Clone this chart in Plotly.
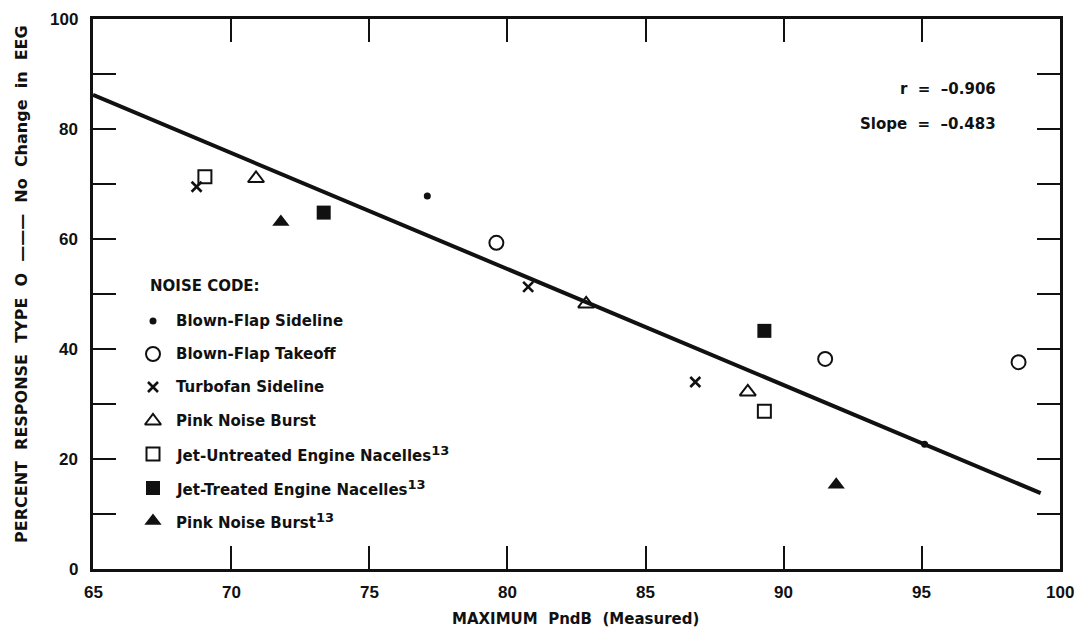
import plotly.graph_objects as go

# ---- data ----
bf_side_x = [77.1, 95.1]
bf_side_y = [67.8, 22.7]
bf_take_x = [79.6, 91.5, 98.5]
bf_take_y = [59.3, 38.2, 37.6]
turbo_x = [68.75, 80.75, 86.8]
turbo_y = [69.5, 51.3, 34.0]
pink_x = [70.9, 82.85, 88.7]
pink_y = [71.0, 48.2, 32.2]
untreated_x = [69.05, 89.3]
untreated_y = [71.3, 28.7]
treated_x = [73.35, 89.3]
treated_y = [64.8, 43.3]
pink13_x = [71.8, 91.9]
pink13_y = [63.1, 15.3]
fit_x = [65.0, 99.3]
fit_y = [86.2, 13.8]

x_ticks = [70, 75, 80, 85, 90, 95]
x_labels = ["65", "70", "75", "80", "85", "90", "95", "100"]
y_ticks = [10, 20, 30, 40, 50, 60, 70, 80, 90]
y_labels = ["0", "20", "40", "60", "80", "100"]

SUP = "<sup><span style='font-size:13px'>13</span></sup>"
legend_names = ["Blown-Flap Sideline", "Blown-Flap Takeoff", "Turbofan Sideline",
                "Pink Noise Burst", "Jet-Untreated Engine Nacelles" + SUP,
                "Jet-Treated Engine Nacelles" + SUP, "Pink Noise Burst" + SUP]

FONT = "DejaVu Sans, Verdana, sans-serif"
NFONT = "Liberation Sans, Arial, sans-serif"
BLK = "#111111"

styles = [
    dict(symbol="circle", size=7, color=BLK, line=dict(width=0)),
    dict(symbol="circle-open", size=14, color=BLK, line=dict(width=2)),
    dict(symbol="x-thin-open", size=10, color=BLK, line=dict(width=2.6)),
    dict(symbol="triangle-up-open", size=14, color=BLK, line=dict(width=2)),
    dict(symbol="square-open", size=13, color=BLK, line=dict(width=2)),
    dict(symbol="square", size=14, color=BLK, line=dict(width=0)),
    dict(symbol="triangle-up", size=15, color=BLK, line=dict(width=0)),
]
series = [(bf_side_x, bf_side_y), (bf_take_x, bf_take_y), (turbo_x, turbo_y),
          (pink_x, pink_y), (untreated_x, untreated_y), (treated_x, treated_y),
          (pink13_x, pink13_y)]

fig = go.Figure()
fig.add_trace(go.Scatter(x=fit_x, y=fit_y, mode="lines",
                         line=dict(color=BLK, width=4), showlegend=False, hoverinfo="skip"))
for (sx, sy), st, nm in zip(series, styles, legend_names):
    fig.add_trace(go.Scatter(x=sx, y=sy, mode="markers", marker=st, name=nm, showlegend=False))

# ---- layout geometry (page has ~7px body offset) ----
W, H = 1086, 635
OFF = 7
L, T = 92 - OFF, 18 - OFF
pw, ph = 967, 550
R = W - L - pw
B = H - T - ph
PLOT_BOTTOM_PX = 568  # target pixel of the x axis on the page


def fx(px):
    return (px - 92) / pw


def fy(py):
    return (PLOT_BOTTOM_PX - py) / ph


leg_px_x = 152
leg_rows_px = [320, 353, 386, 420, 453, 487, 520]
lx = [fx(leg_px_x)] * len(leg_rows_px)
ly = [fy(py) for py in leg_rows_px]
for i, st in enumerate(styles):
    fig.add_trace(go.Scatter(x=[lx[i]], y=[ly[i]], mode="markers", marker=st,
                             xaxis="x2", yaxis="y2", showlegend=False, hoverinfo="skip"))

TF = dict(family=FONT, size=15, color=BLK)
ann = []
ann.append(dict(x=fx(147), y=fy(285), xref="paper", yref="paper",
                text="<b>NOISE CODE:</b>", showarrow=False, xanchor="left", yanchor="middle", font=TF))
for i, nm in enumerate(legend_names):
    ann.append(dict(x=fx(173), y=ly[i], xref="paper", yref="paper", text="<b>" + nm + "</b>",
                    showarrow=False, xanchor="left", yanchor="middle", font=TF))
ann.append(dict(x=fx(997), y=fy(88), xref="paper", yref="paper",
                text="<b>r  =  \u20130.906</b>", showarrow=False, xanchor="right", yanchor="middle", font=TF))
ann.append(dict(x=fx(997), y=fy(123), xref="paper", yref="paper",
                text="<b>Slope  =  \u20130.483</b>", showarrow=False, xanchor="right", yanchor="middle", font=TF))
for i, t in enumerate(x_labels):
    ann.append(dict(x=65 + 5 * i, y=fy(580), xref="x", yref="paper", text="<b>" + t + "</b>", showarrow=False,
                    xanchor="center", yanchor="top", font=dict(family=NFONT, size=17, color=BLK)))
for i, t in enumerate(y_labels):
    ann.append(dict(x=fx(79), y=20 * i, xref="paper", yref="y", text="<b>" + t + "</b>", showarrow=False,
                    xanchor="right", yanchor="middle", font=dict(family=NFONT, size=17, color=BLK)))
ann.append(dict(x=fx(574), y=fy(618), xref="paper", yref="paper", text="<b>MAXIMUM  PndB  (Measured)</b>",
                showarrow=False, xanchor="center", yanchor="middle", font=TF))
ann.append(dict(x=fx(20), y=fy(283), xref="paper", yref="paper",
                text="<b>PERCENT  RESPONSE  TYPE  O  \u2014\u2014\u2014  No  Change  in  EEG</b>",
                showarrow=False, xanchor="center", yanchor="middle", textangle=-90,
                font=dict(family=FONT, size=16, color=BLK)))

fig.update_layout(
    width=W, height=H, margin=dict(l=L, r=R, t=T, b=B, autoexpand=False),
    paper_bgcolor="white", plot_bgcolor="white",
    xaxis=dict(range=[65, 100], tickvals=x_ticks, ticktext=[""] * len(x_ticks),
               ticks="inside", ticklen=23, tickwidth=2, tickcolor=BLK,
               showline=True, linewidth=3, linecolor=BLK, mirror="ticks",
               showgrid=False, zeroline=False),
    yaxis=dict(range=[0, 100], tickvals=y_ticks, ticktext=[""] * len(y_ticks),
               ticks="inside", ticklen=23, tickwidth=2, tickcolor=BLK,
               showline=True, linewidth=3, linecolor=BLK, mirror="ticks",
               showgrid=False, zeroline=False),
    xaxis2=dict(range=[0, 1], overlaying="x", visible=False, fixedrange=True),
    yaxis2=dict(range=[0, 1], overlaying="y", visible=False, fixedrange=True),
    annotations=ann,
    showlegend=False,
)
fig.write_html("out.html")
